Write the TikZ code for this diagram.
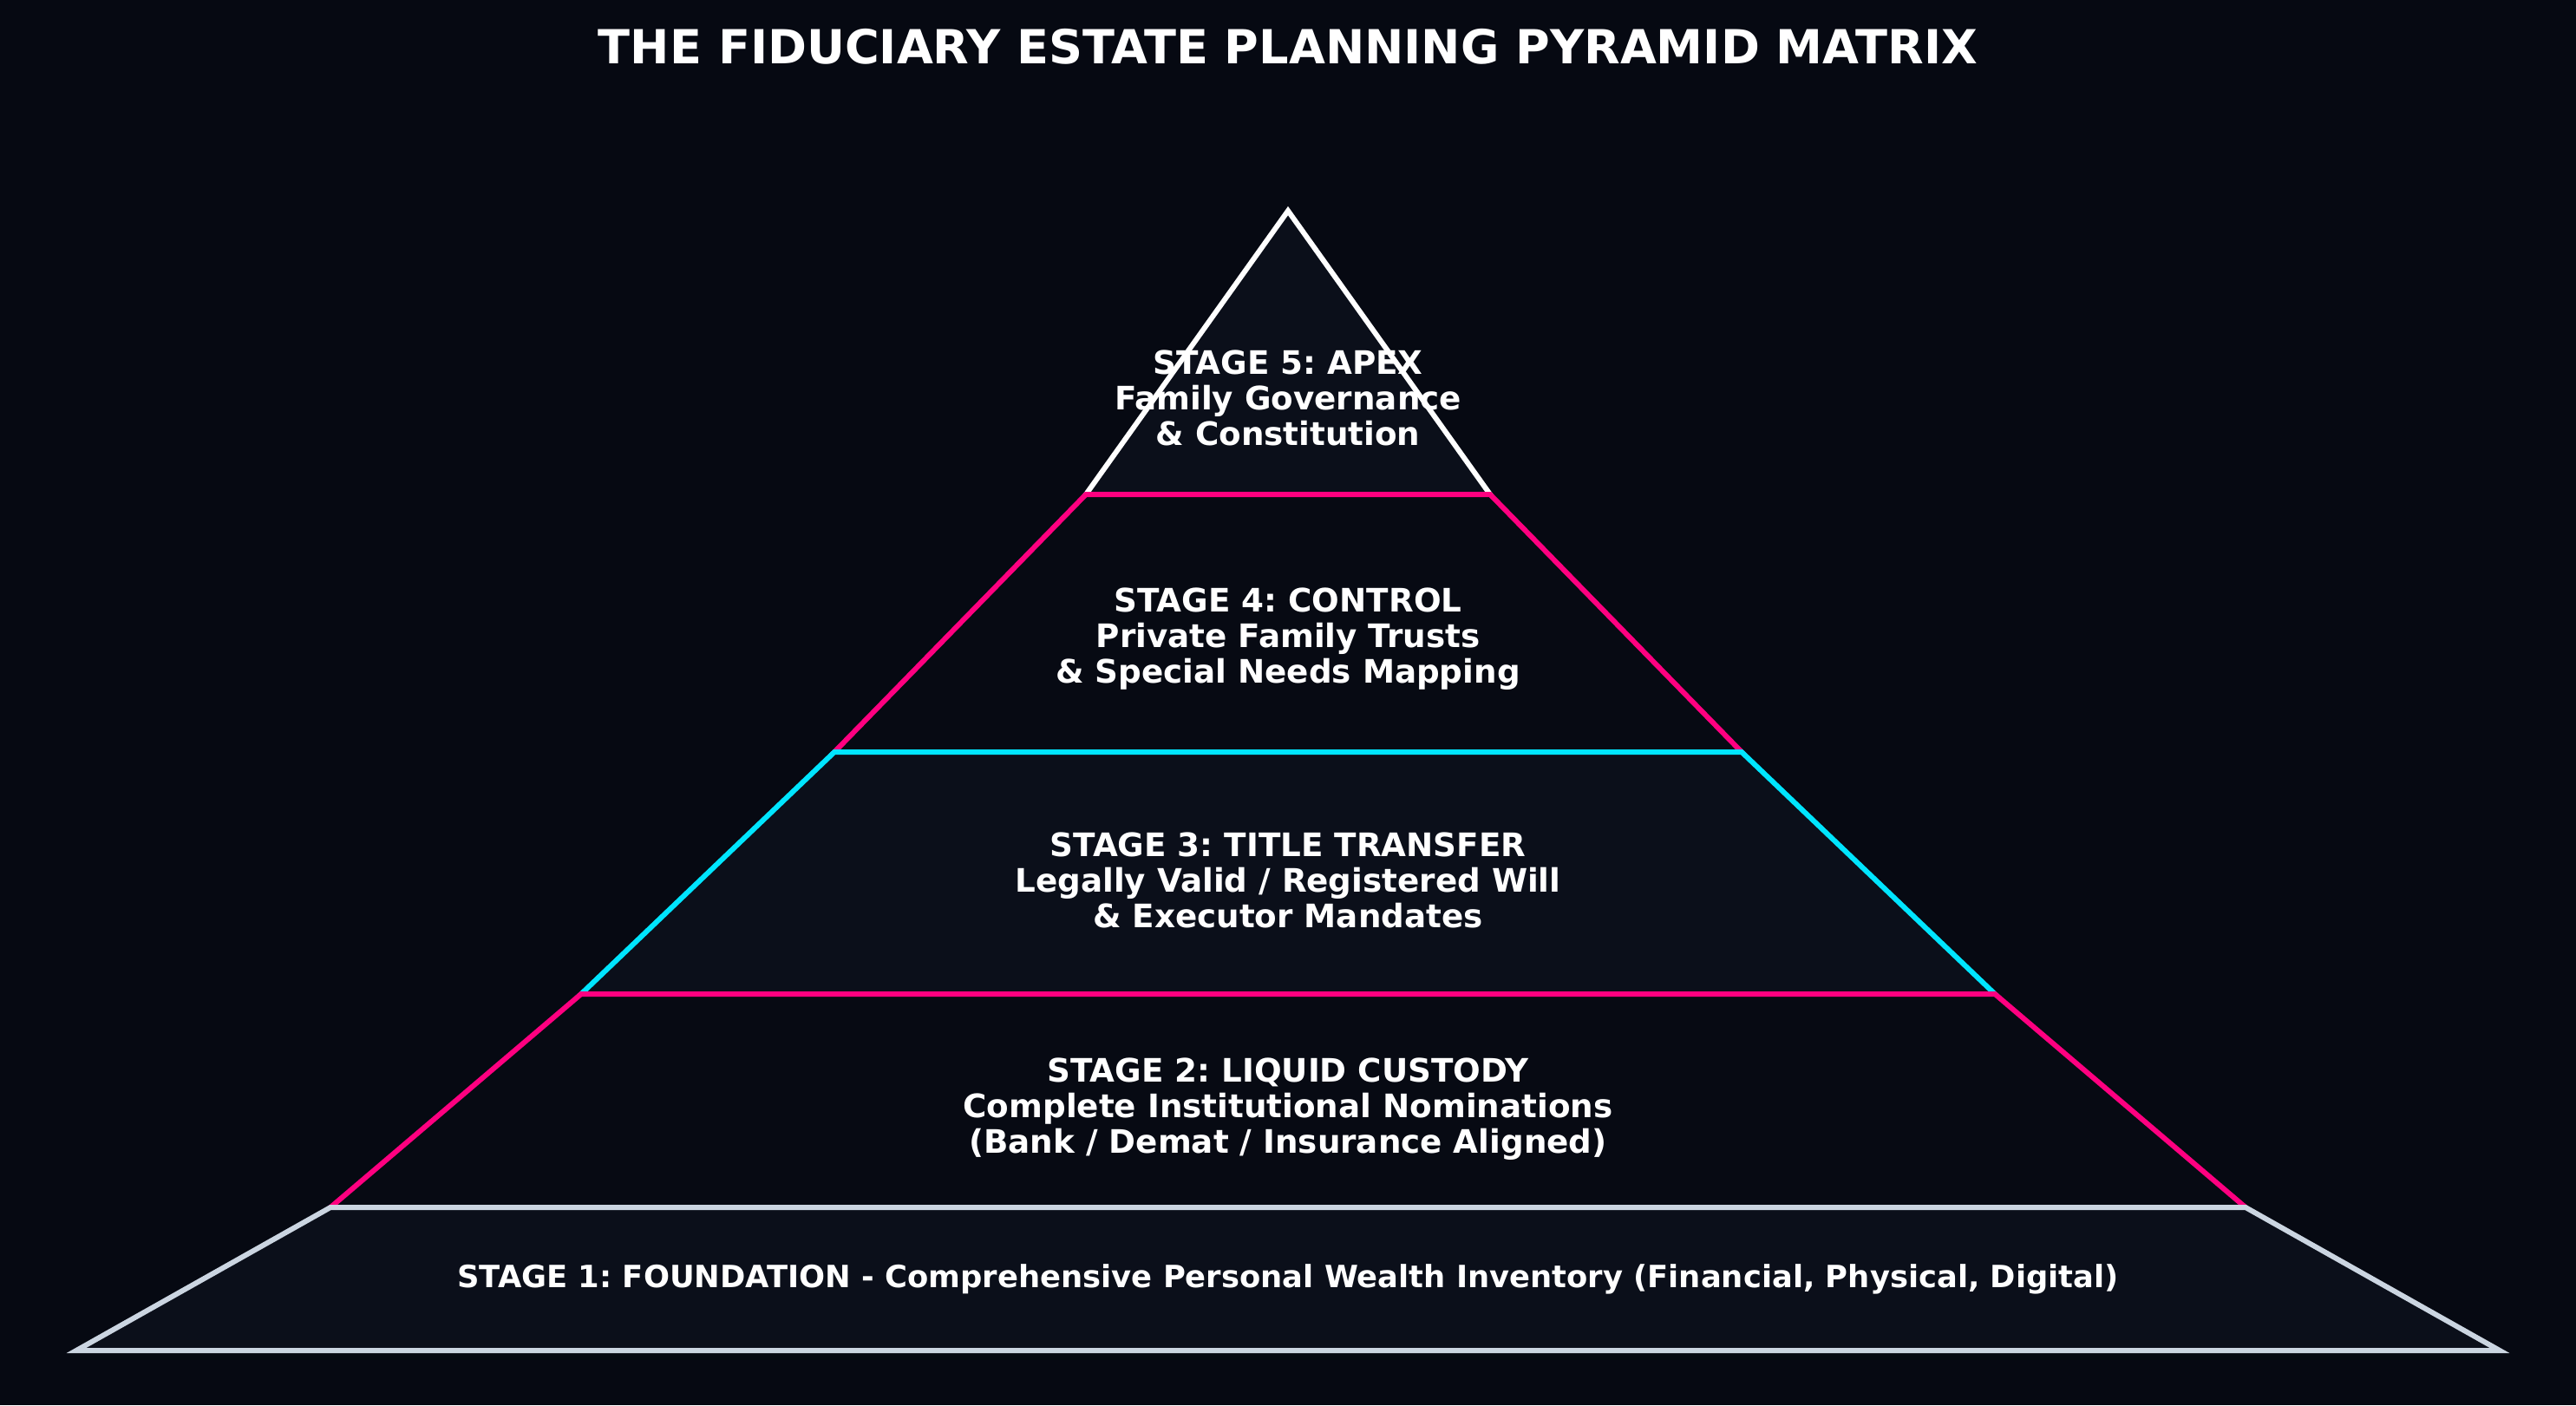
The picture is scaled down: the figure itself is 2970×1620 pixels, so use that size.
\documentclass[tikz,border=0pt]{standalone}
\usepackage{fontspec}
\setmainfont{DejaVu Sans}
\frenchspacing
\definecolor{bgc}{HTML}{060912}
\definecolor{filla}{HTML}{0B0F1A}
\definecolor{fillb}{HTML}{070A13}
\definecolor{magen}{HTML}{FF0080}
\definecolor{cyanc}{HTML}{00E5FF}
\definecolor{greyc}{HTML}{CBD5E1}
\begin{document}
\begin{tikzpicture}[x=0.01cm,y=-0.01cm,
  tier/.style={line width=1.7pt, line join=miter},
  lbl/.style={text=white, font=\bfseries\fontsize{10.6}{11.7}\selectfont, align=center, inner sep=0pt},
  ttl/.style={text=white, font=\bfseries\fontsize{15.4}{18}\selectfont, inner sep=0pt}]
\fill[bgc] (0,0) rectangle (2970,1620);
\useasboundingbox (0,0) rectangle (2970,1620);
% stage 5
\draw[tier, fill=filla, draw=white] (1485,243) -- (1718,570) -- (1252,570) -- cycle;
% stage 4
\draw[tier, fill=fillb, draw=magen] (1252,570) -- (1718,570) -- (2008,867) -- (962,867) -- cycle;
% stage 3
\draw[tier, fill=filla, draw=cyanc] (962,867) -- (2008,867) -- (2300,1146) -- (670,1146) -- cycle;
% stage 2
\draw[tier, fill=fillb, draw=magen] (670,1146) -- (2300,1146) -- (2589,1392) -- (381,1392) -- cycle;
% stage 1
\draw[tier, fill=filla, draw=greyc] (381,1392) -- (2589,1392) -- (2882,1557) -- (88,1557) -- cycle;
\node[ttl] (title) at (1485,54) {THE FIDUCIARY ESTATE PLANNING PYRAMID MATRIX};
\node[lbl] (s5) at (1485,459) {STAGE 5: APEX\\Family Governance\\\& Constitution};
\node[lbl] (s4) at (1485,737) {STAGE 4: CONTROL\\Private Family Trusts\\\& Special Needs Mapping};
\node[lbl] (s3) at (1485,1015) {STAGE 3: TITLE TRANSFER\\Legally Valid / Registered Will\\\& Executor Mandates};
\node[lbl] (s2) at (1485,1279) {STAGE 2: LIQUID CUSTODY\\Complete Institutional Nominations\\(Bank / Demat / Insurance Aligned)};
\node[lbl, font=\bfseries\fontsize{10.05}{11}\selectfont] (s1) at (1485,1475) {STAGE 1: FOUNDATION - Comprehensive Personal Wealth Inventory (Financial, Physical, Digital)};
\end{tikzpicture}
\end{document}
